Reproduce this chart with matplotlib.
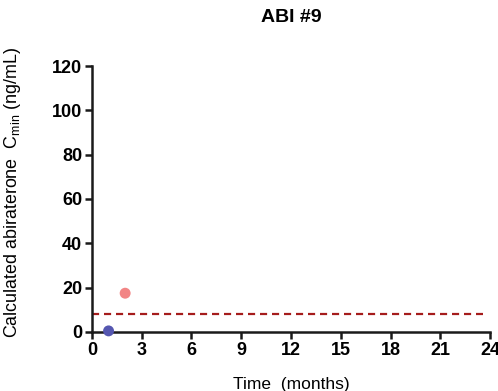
import matplotlib.pyplot as plt
import numpy as np

plt.rcParams['font.family'] = ['Liberation Sans', 'DejaVu Sans']

# data
months = [1, 2]
cmin = [0.5, 17.5]
point_colors = ['#5557b0', '#f28585']
threshold = 8.0
threshold_span = [0, 23.6]
xticks = np.arange(0, 25, 3)
yticks = np.arange(0, 121, 20)

fig = plt.figure(figsize=(4.98, 3.91), dpi=100)
ax = fig.add_axes([0.1847, 0.1509, 0.7993, 0.6803])

ax.plot(threshold_span, [threshold, threshold], ls=(0, (3.2, 2.2)), c='#a51c1c', lw=1.6, zorder=2)
ax.scatter(months, cmin, c=point_colors, s=62, zorder=3, clip_on=False, edgecolors='none')

ax.set_xlim(0, 24)
ax.set_ylim(0, 120)
ax.set_xticks(xticks)
ax.set_yticks(yticks)
for s in ['top', 'right']:
    ax.spines[s].set_visible(False)
for s in ['left', 'bottom']:
    ax.spines[s].set_linewidth(1.8)
    ax.spines[s].set_color('#1a1a1a')
ax.tick_params(width=1.8, length=5, color='#1a1a1a', labelsize=13, pad=2)
for lab in ax.get_xticklabels() + ax.get_yticklabels():
    lab.set_fontweight('bold')

ax.set_title('ABI #9', fontsize=14, fontweight='bold', pad=31.5)
ax.set_xlabel('Time  (months)', fontsize=12.5, labelpad=13)
ax.set_ylabel('Calculated abiraterone  C$_\\mathregular{min}$ (ng/mL)', fontsize=12.9)
ax.yaxis.set_label_coords(-0.174, 0.523)

fig.savefig('out.png', dpi=100)
